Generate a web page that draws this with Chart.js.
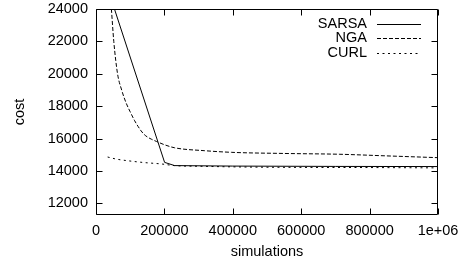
<!DOCTYPE html>
<html lang="en">
<head>
<meta charset="UTF-8">
<title>cost vs simulations</title>
<script src="https://cdn.jsdelivr.net/npm/chart.js"></script>
<style>
    html, body { margin: 0; padding: 0; background: #fff; }
    #wrap { width: 467px; height: 268px; }
</style>
</head>
<body>
<div id="wrap"><canvas id="chart" width="467" height="268"></canvas></div>
<script>
// series
const seriesNames = ['SARSA', 'NGA', 'CURL'];

const sarsaX = [54000, 200600, 229900, 400000, 700000, 1000000];
const sarsaY = [24000, 14530, 14330, 14300, 14280, 14270];

const ngaX = [45000, 52000, 63000, 75000, 88000, 100000, 113000, 123000, 132000, 141000, 150000, 163000, 177000, 200000, 230000, 318000, 396000, 550000, 713000, 850000, 1000000];
const ngaY = [24000, 22000, 20000, 19000, 18200, 17650, 17100, 16750, 16470, 16250, 16100, 15950, 15820, 15620, 15430, 15250, 15150, 15080, 15030, 14930, 14820];

const curlX = [34000, 60000, 93000, 140000, 192000, 230000, 300000, 450000, 600000, 800000, 1000000];
const curlY = [14860, 14730, 14630, 14520, 14430, 14330, 14290, 14240, 14220, 14210, 14190];

const xTicks = [0, 200000, 400000, 600000, 800000, 1000000];
const xTickLabels = ['0', '200000', '400000', '600000', '800000', '1e+06'];
const yTicks = [12000, 14000, 16000, 18000, 20000, 22000, 24000];
const yTickLabels = ['12000', '14000', '16000', '18000', '20000', '22000', '24000'];

const FONT = { family: '"Liberation Sans", Arial, sans-serif', size: 14.5 };

function pts(xs, ys) {
    return xs.map((v, i) => ({ x: v, y: ys[i] }));
}

// gnuplot style frame: box + inward ticks on all four sides, key in the corner
const frame = {
    id: 'frame',
    afterDatasetsDraw(chart) {
        const { ctx, chartArea: a, scales: { x, y } } = chart;
        const L = Math.round(a.left) + 0.5, R = Math.round(a.right) - 0.5;
        const T = Math.round(a.top) + 0.5, B = Math.round(a.bottom) - 0.5;
        ctx.save();
        ctx.strokeStyle = '#000';
        ctx.lineWidth = 1;
        ctx.setLineDash([]);
        ctx.beginPath();
        ctx.rect(L, T, R - L, B - T);
        x.ticks.forEach(t => {
            const px = Math.round(x.getPixelForValue(t.value)) + 0.5;
            ctx.moveTo(px, B); ctx.lineTo(px, B - 6);
            ctx.moveTo(px, T); ctx.lineTo(px, T + 6);
        });
        y.ticks.forEach(t => {
            const py = Math.round(y.getPixelForValue(t.value)) + 0.5;
            ctx.moveTo(L, py); ctx.lineTo(L + 6, py);
            ctx.moveTo(R, py); ctx.lineTo(R - 6, py);
        });
        ctx.stroke();

        // key
        ctx.font = `${FONT.size}px ${FONT.family}`;
        ctx.fillStyle = '#000';
        ctx.textAlign = 'right';
        ctx.textBaseline = 'middle';
        chart.data.datasets.forEach((ds, i) => {
            const ty = a.top + 14.5 + i * 14.6;
            ctx.fillText(ds.label, a.right - 71, ty);
            ctx.beginPath();
            ctx.setLineDash(ds.borderDash || []);
            ctx.moveTo(a.right - 61, Math.round(ty) + 0.5);
            ctx.lineTo(a.right - 17, Math.round(ty) + 0.5);
            ctx.stroke();
        });
        ctx.restore();
    }
};

function noOverflow(s) {
    s.paddingTop = 0; s.paddingBottom = 0; s.paddingLeft = 0; s.paddingRight = 0;
}

new Chart(document.getElementById('chart'), {
    type: 'line',
    data: {
        datasets: [
            { label: seriesNames[0], data: pts(sarsaX, sarsaY), borderColor: '#000', borderWidth: 1, borderDash: [], tension: 0 },
            { label: seriesNames[1], data: pts(ngaX, ngaY), borderColor: '#000', borderWidth: 1, borderDash: [4, 2], cubicInterpolationMode: 'monotone' },
            { label: seriesNames[2], data: pts(curlX, curlY), borderColor: '#000', borderWidth: 1, borderDash: [2, 3.5], cubicInterpolationMode: 'monotone' }
        ]
    },
    options: {
        responsive: false,
        animation: false,
        devicePixelRatio: 1,
        layout: { padding: { top: 9, right: 29, left: 0, bottom: 0 } },
        elements: { point: { radius: 0 } },
        plugins: { legend: { display: false }, tooltip: { enabled: false } },
        scales: {
            x: {
                type: 'linear',
                min: 0,
                max: 1000000,
                afterBuildTicks: s => { s.ticks = xTicks.map(v => ({ value: v })); },
                afterFit: s => { s.height = 53; noOverflow(s); },
                grid: { display: false, drawTicks: false },
                border: { display: false },
                ticks: {
                    color: '#000', font: FONT, padding: 7, maxRotation: 0, autoSkip: false,
                    callback: v => xTickLabels[xTicks.indexOf(v)]
                },
                title: { display: true, text: 'simulations', color: '#000', font: FONT, padding: { top: 0, bottom: 7 } }
            },
            y: {
                type: 'linear',
                min: 11280,
                max: 24000,
                afterBuildTicks: s => { s.ticks = yTicks.map(v => ({ value: v })); },
                afterFit: s => { s.width = 96; noOverflow(s); },
                grid: { display: false, drawTicks: false },
                border: { display: false },
                ticks: {
                    color: '#000', font: FONT, padding: 8,
                    callback: v => yTickLabels[yTicks.indexOf(v)]
                },
                title: { display: true, text: 'cost', color: '#000', font: FONT, padding: { top: 11, bottom: 0 } }
            }
        }
    },
    plugins: [frame]
});
</script>
</body>
</html>
